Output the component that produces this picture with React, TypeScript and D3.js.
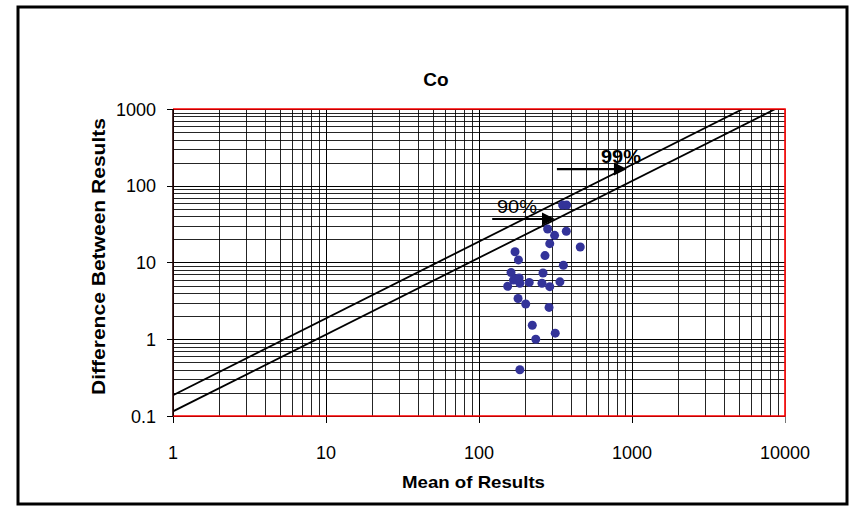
import React from "react";
import * as d3 from "d3";

const W = 852;
const H = 507;

const xTicks = [1, 10, 100, 1000, 10000];
const yTicks = [0.1, 1, 10, 100, 1000];
const xTickLabels = ["1", "10", "100", "1000", "10000"];
const yTickLabels = ["0.1", "1", "10", "100", "1000"];

const meanValues = [352, 374, 281, 312, 372, 290, 459, 172, 181, 270, 356, 162, 262, 168, 176, 183, 185, 154, 213, 258, 290, 338, 180, 202, 287, 223, 315, 235, 185];
const diffValues = [56, 56, 27.3, 22.6, 25.5, 17.6, 15.9, 13.8, 10.8, 12.3, 9.2, 7.4, 7.3, 5.9, 6.15, 6.3, 5.36, 4.9, 5.5, 5.36, 4.84, 5.6, 3.4, 2.88, 2.6, 1.52, 1.2, 1.0, 0.4];

const line99: [number, number][] = [[1, 0.186], [5300, 1000]];
const line90: [number, number][] = [[1, 0.115], [8650, 1000]];

const arrow90 = { x0: 122, x1: 314, y: 36.9, label: "90%", labelX: 131 };
const arrow99 = { x0: 323, x1: 927, y: 165, label: "99%", labelX: 627 };

const FONT = "'Liberation Sans', Arial, sans-serif";

export default function App() {
  const left = 173, right = 785, top = 109, bottom = 416;
  const x = d3.scaleLog().domain([1, 10000]).range([left, right]);
  const y = d3.scaleLog().domain([0.1, 1000]).range([bottom, top]);

  const minorX: number[] = [];
  for (let d = 1; d < 10000; d *= 10) for (let m = 2; m <= 9; m++) minorX.push(d * m);
  const minorY: number[] = [];
  for (let d = 0.1; d < 999; d *= 10) for (let m = 2; m <= 9; m++) minorY.push(d * m);

  const line = d3.line<[number, number]>().x((d) => x(d[0])).y((d) => y(d[1]));

  const arrow = (a: typeof arrow90, bold: boolean, key: string) => {
    const x0 = x(a.x0), x1 = x(a.x1), yy = y(a.y);
    return (
      <g key={key}>
        <line x1={x0} y1={yy} x2={x1 - 12} y2={yy} stroke="#000" strokeWidth={2.2} />
        <path d={`M${x1},${yy} L${x1 - 13},${yy - 6.5} L${x1 - 13},${yy + 6.5} Z`} fill="#000" />
        <text x={x(a.labelX)} y={yy - 6} fontFamily={FONT} fontSize={19} textLength={40} lengthAdjust="spacingAndGlyphs" fontWeight={bold ? "bold" : "normal"} fill="#000">
          {a.label}
        </text>
      </g>
    );
  };

  return (
    <div style={{ position: "absolute", left: 0, top: 0 }}>
      <svg width={W} height={H} style={{ display: "block" }}>
        <rect x={0} y={0} width={W} height={H} fill="#fff" />
        <rect x={18} y={7} width={829} height={497} fill="#fff" stroke="#000" strokeWidth={3} />
        <text x={436} y={86} textAnchor="middle" fontFamily={FONT} fontSize={19} fontWeight="bold">Co</text>

        <defs>
          <clipPath id="plotclip">
            <rect x={left} y={top} width={right - left} height={bottom - top} />
          </clipPath>
        </defs>

        <g shapeRendering="crispEdges">
          {minorY.map((v, i) => (
            <line key={"my" + i} x1={left} x2={right} y1={Math.round(y(v)) + 0.5} y2={Math.round(y(v)) + 0.5} stroke="#000" strokeWidth={1} opacity={0.85} />
          ))}
          {minorX.map((v, i) => (
            <line key={"mx" + i} y1={top} y2={bottom} x1={Math.round(x(v)) + 0.5} x2={Math.round(x(v)) + 0.5} stroke="#000" strokeWidth={1} opacity={0.85} />
          ))}
          {yTicks.map((v, i) => (
            <line key={"gy" + i} x1={left - 6} x2={right} y1={Math.round(y(v)) + 0.5} y2={Math.round(y(v)) + 0.5} stroke="#000" strokeWidth={1} />
          ))}
          {xTicks.map((v, i) => (
            <line key={"gx" + i} y1={top} y2={bottom + 7} x1={Math.round(x(v)) + 0.5} x2={Math.round(x(v)) + 0.5} stroke={i === xTicks.length - 1 ? "#777" : "#000"} strokeWidth={1} />
          ))}
        </g>

        <g clipPath="url(#plotclip)">
          <path d={line(line99) || ""} stroke="#000" strokeWidth={1.8} fill="none" />
          <path d={line(line90) || ""} stroke="#000" strokeWidth={1.8} fill="none" />
        </g>

        <path d={`M${left},${top} L${right},${top} L${right},${bottom} L${left},${bottom}`} fill="none" stroke="#ff0000" strokeWidth={1.6} />
        <line x1={left} x2={left} y1={top} y2={bottom} stroke="#200" strokeWidth={1.6} />

        {meanValues.map((m, i) => (
          <circle key={"p" + i} cx={x(m)} cy={y(diffValues[i])} r={4.5} fill="#333399" />
        ))}

        {arrow(arrow90, false, "a90")}
        {arrow(arrow99, true, "a99")}

        {yTicks.map((v, i) => (
          <text key={"yl" + i} x={156} y={y(v) + 6.5} textAnchor="end" fontFamily={FONT} fontSize={18} fill="#000">
            {yTickLabels[i]}
          </text>
        ))}
        {xTicks.map((v, i) => (
          <text key={"xl" + i} x={x(v)} y={459} textAnchor="middle" fontFamily={FONT} fontSize={18} fill="#000">
            {xTickLabels[i]}
          </text>
        ))}

        <text x={473.5} y={488} textAnchor="middle" fontFamily={FONT} fontSize={17} fontWeight="bold" textLength={143} lengthAdjust="spacingAndGlyphs">Mean of Results</text>
        <text transform={`translate(105, 256.5) rotate(-90)`} textAnchor="middle" fontFamily={FONT} fontSize={18} fontWeight="bold" textLength={277} lengthAdjust="spacingAndGlyphs">
          Difference Between Results
        </text>
      </svg>
    </div>
  );
}
